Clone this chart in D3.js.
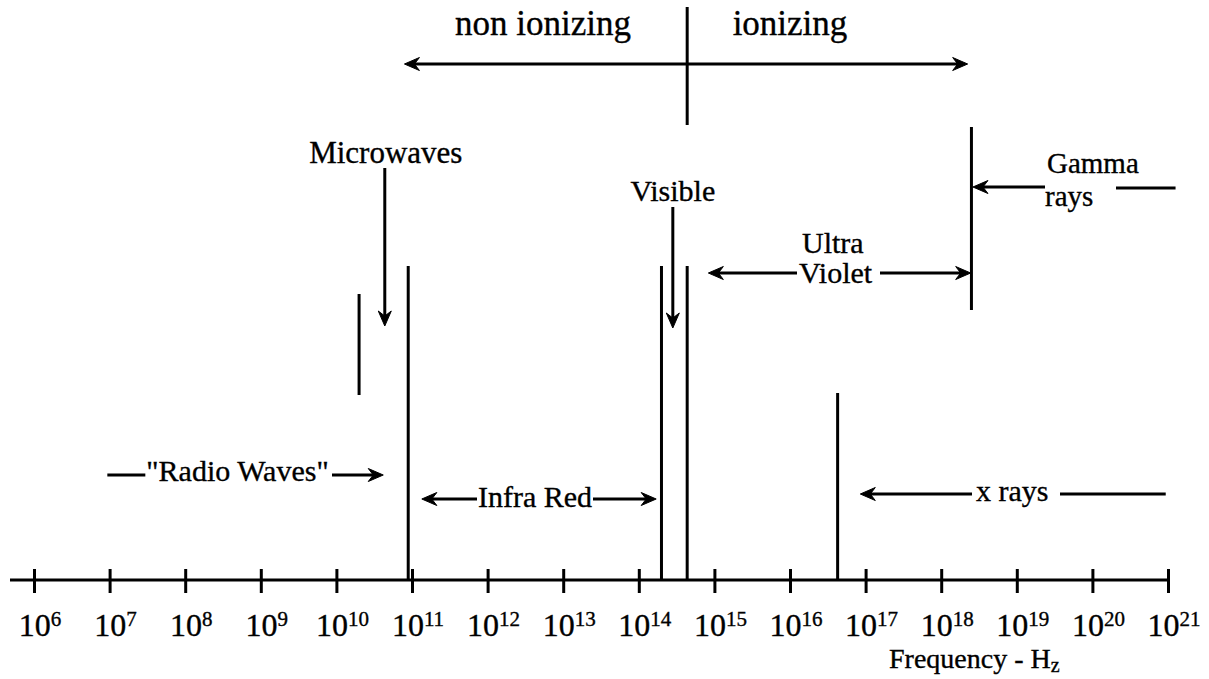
<!DOCTYPE html>
<html><head><meta charset="utf-8">
<script src="https://cdn.jsdelivr.net/npm/d3@7"></script>
<style>
body{margin:0;background:#fff}
svg{display:block;background:#fff}
text{font-family:"Liberation Serif","Times New Roman",serif;fill:#000;stroke:#000;stroke-width:0.35}
</style>
</head><body>
<svg id="chart" width="1209" height="679"></svg>
<script>
// ---------- data (frequencies as log10 Hz) ----------
const tickExponents = [6,7,8,9,10,11,12,13,14,15,16,17,18,19,20,21];
const tickBase = "10";
const axisTitle = "Frequency - H";
const axisTitleSub = "z";
const boundaryNames = ["microwave low", "infra red low", "visible low", "visible high", "x ray low", "gamma low"];
const boundaryLogF = [10.3, 10.95, 14.3, 14.64, 16.63, 18.4];
const ionizingLogF = 14.64;
const regionNames = ["non ionizing", "ionizing"];
const regionSpanLogF = [10.9, 18.35];
const bandNames = ['"Radio Waves"', "Microwaves", "Infra Red", "Visible", "Ultra", "Violet", "x rays", "Gamma", "rays"];
const radioSpanLogF = [6.97, 10.62];
const microwaveArrowLogF = 10.64;
const infraSpanLogF = [11.13, 14.23];
const visibleArrowLogF = 14.45;
const uvSpanLogF = [14.92, 18.39];
const xraySpanLogF = [16.93, 20.97];
const gammaSpanLogF = [18.42, 21.1];

// ---------- layout ----------
const svg = d3.select("#chart");
const x = d3.scaleLog().domain([1e6, 1e21]).range([34, 1168]);
const lx = L => x(Math.pow(10, L));
const axisY = 580;
const SW = 3;
const boundaryTop = [294, 266, 266, 266, 393, 127];
const boundaryBottom = [395, 580, 580, 580, 580, 310];

function line(x1, y1, x2, y2, w) {
  svg.append("line").attr("x1", x1).attr("y1", y1).attr("x2", x2).attr("y2", y2)
    .attr("stroke", "#000").attr("stroke-width", w || SW);
}
function head(tx, ty, dir) {
  let p;
  if (dir === "r") p = `M${tx},${ty} L${tx-15},${ty-6.5} L${tx-10},${ty} L${tx-15},${ty+6.5} Z`;
  else if (dir === "l") p = `M${tx},${ty} L${tx+15},${ty-6.5} L${tx+10},${ty} L${tx+15},${ty+6.5} Z`;
  else p = `M${tx},${ty} L${tx-6.5},${ty-15} L${tx},${ty-10} L${tx+6.5},${ty-15} Z`;
  svg.append("path").attr("d", p).attr("fill", "#000").attr("stroke", "#000").attr("stroke-width", 1);
}
function arrow(x1, x2, y, dir) {
  line(x1, y, dir === "r" ? x2 - 8 : x2 + 8, y);
  head(x2, y, dir);
}
function label(txt, tx, ty, size, anchor) {
  return svg.append("text").attr("x", tx).attr("y", ty).attr("font-size", size)
    .attr("text-anchor", anchor || "start").text(txt);
}

// axis
const axis = d3.axisBottom(x).tickValues(tickExponents.map(e => Math.pow(10, e)))
  .tickSize(13).tickFormat("");
const gAxis = svg.append("g").attr("transform", `translate(0,${axisY})`).call(axis);
gAxis.select(".domain").remove();
gAxis.selectAll(".tick line").attr("y1", -11).attr("y2", 13).attr("stroke", "#000").attr("stroke-width", SW);
line(10, axisY, x(1e21), axisY);

// tick labels
tickExponents.forEach(e => {
  const t = svg.append("text").attr("x", x(Math.pow(10, e)) + 6).attr("y", 636)
    .attr("font-size", 32).attr("text-anchor", "middle");
  t.append("tspan").text(tickBase);
  t.append("tspan").attr("font-size", 21).attr("dy", -10).text(String(e));
});
// axis title
const at = svg.append("text").attr("x", 889).attr("y", 668).attr("font-size", 28);
at.append("tspan").text(axisTitle);
at.append("tspan").attr("font-size", 20).attr("dy", 4).text(axisTitleSub);

// boundary lines
boundaryLogF.forEach((L, i) => line(lx(L), boundaryTop[i], lx(L), boundaryBottom[i]));

// ionizing divider and double arrow
line(lx(ionizingLogF), 7, lx(ionizingLogF), 125);
line(lx(regionSpanLogF[0]) + 8, 64, lx(regionSpanLogF[1]) - 8, 64);
head(lx(regionSpanLogF[0]), 64, "l");
head(lx(regionSpanLogF[1]), 64, "r");
label(regionNames[0], 543, 35, 35, "middle");
label(regionNames[1], 790, 35, 35, "middle");

// Radio waves
{
  const y = 475;
  line(lx(radioSpanLogF[0]), y, lx(radioSpanLogF[0]) + 38, y);
  label(bandNames[0], lx(radioSpanLogF[0]) + 39, 481, 30, "start");
  arrow(332, lx(radioSpanLogF[1]), y, "r");
}
// Microwaves
label(bandNames[1], lx(microwaveArrowLogF) + 1, 163, 31, "middle");
line(lx(microwaveArrowLogF), 168, lx(microwaveArrowLogF), 318);
head(lx(microwaveArrowLogF), 326, "d");
// Infra red
{
  const y = 499;
  arrow(477, lx(infraSpanLogF[0]), y, "l");
  label(bandNames[2], 478, 507, 30, "start");
  arrow(593, lx(infraSpanLogF[1]), y, "r");
}
// Visible
label(bandNames[3], lx(visibleArrowLogF), 201, 30, "middle");
line(lx(visibleArrowLogF), 207, lx(visibleArrowLogF), 320);
head(lx(visibleArrowLogF), 328, "d");
// Ultra violet
{
  const y = 273;
  arrow(797, lx(uvSpanLogF[0]), y, "l");
  label(bandNames[4], 802, 253, 30, "start");
  label(bandNames[5], 799, 283, 30, "start");
  arrow(880, lx(uvSpanLogF[1]), y, "r");
}
// x rays
{
  const y = 494;
  arrow(972, lx(xraySpanLogF[0]), y, "l");
  label(bandNames[6], 976, 501, 30, "start");
  line(1060, y, lx(xraySpanLogF[1]), y);
}
// Gamma rays
{
  const y = 187;
  arrow(1045, lx(gammaSpanLogF[0]), y, "l");
  label(bandNames[7], 1047, 173, 29, "start");
  label(bandNames[8], 1045, 206, 29, "start");
  line(1116, 188, lx(gammaSpanLogF[1]), 188);
}
</script>
</body></html>
